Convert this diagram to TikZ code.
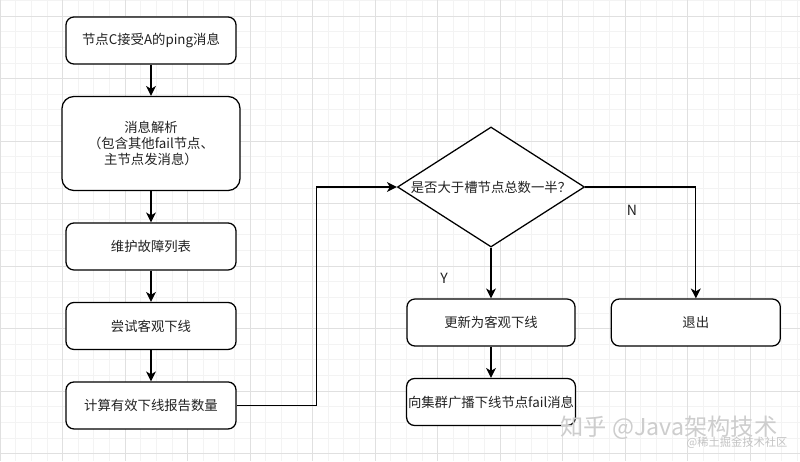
\documentclass[tikz,border=0pt]{standalone}
\usepackage{fontspec}
\setmainfont{Noto Sans CJK SC}
\usepackage{tikz}
\usetikzlibrary{arrows,arrows.meta,shapes,positioning,calc}
\definecolor{gridmajor}{RGB}{224,224,224}
\definecolor{gridminor}{RGB}{243,243,243}
\definecolor{textgray}{RGB}{34,34,34}
\definecolor{wmgray}{RGB}{205,205,205}
\tikzstyle{arrow} = [line width=0.9pt,->,>={Stealth[length=7pt,width=7pt,inset=2pt]}]
\tikzstyle{stepbox} = [rectangle, rounded corners=0.2cm, minimum width=4.25cm, minimum height=1.175cm, inner sep=1pt, text centered, draw, fill=white, line width=0.9pt, text=textgray, font=\fontsize{9.5}{11.5}\selectfont]
\tikzstyle{decision} = [diamond, minimum width=4.675cm, minimum height=3cm, inner sep=0pt, shape aspect=1.56, text centered, draw, fill=white, line width=0.9pt, text=textgray, font=\fontsize{9.5}{11.5}\selectfont]

\begin{document}
\begin{tikzpicture}[x=0.025cm, y=-0.025cm, node distance=0.78cm]
\useasboundingbox (0,0) rectangle (800,461);
% Grid
\fill[white] (0,0) rectangle (800,461);
\foreach \x in {0,15.625,...,800} \draw[gridminor, line width=0.4pt] (\x,0) -- (\x,461);
\foreach \y in {0.375,16,...,461} \draw[gridminor, line width=0.4pt] (0,\y) -- (800,\y);
\foreach \x in {0,62.5,...,800} \draw[gridmajor, line width=0.6pt] (\x,0) -- (\x,461);
\foreach \y in {16,78.5,...,461} \draw[gridmajor, line width=0.6pt] (0,\y) -- (800,\y);
% Left column
\node[stepbox] (recv) at (151,40.5) {节点C接受A的ping消息};
\node[stepbox, minimum width=4.45cm, minimum height=2.35cm, rounded corners=0.3cm, align=center, below=of recv] (parse) {消息解析\\（包含其他fail节点、\\主节点发消息）};
\node[stepbox, below=of parse] (faillist) {维护故障列表};
\node[stepbox, below=of faillist] (trydown) {尝试客观下线};
\node[stepbox, below=of trydown] (count) {计算有效下线报告数量};
% Right part
\node[decision] (judge) at (491,187) {是否大于槽节点总数一半？};
\node[stepbox, minimum width=4.2cm] (update) at (491,322.5) {更新为客观下线};
\node[stepbox, minimum width=4.225cm, right=0.875cm of update] (quit) {退出};
\node[stepbox, minimum width=4.2cm, below=of update] (broadcast) {向集群广播下线节点fail消息};
% Arrows
\draw[arrow] (recv) -- (parse);
\draw[arrow] (parse) -- (faillist);
\draw[arrow] (faillist) -- (trydown);
\draw[arrow] (trydown) -- (count);
\draw[arrow] (count.east) -- ++(80,0) |- (judge.west);
\draw[arrow] (judge.south) -- (update.north);
\draw[arrow] (judge.east) -| (quit.north);
\draw[arrow] (update) -- (broadcast);
\node[text=textgray, font=\fontsize{10}{12}\selectfont] (ylabel) at (444,278) {Y};
\node[text=textgray, font=\fontsize{10}{12}\selectfont] (nlabel) at (632,210) {N};
% Watermark
\node[text=wmgray, font=\fontsize{16.5}{18}\selectfont] (wmzhihu) at (669,428) {知乎 @Java架构技术};
\node[text=wmgray!120, font=\fontsize{8}{9}\selectfont] (wmjuejin) at (737,443) {@稀土掘金技术社区};
\end{tikzpicture}
\end{document}
